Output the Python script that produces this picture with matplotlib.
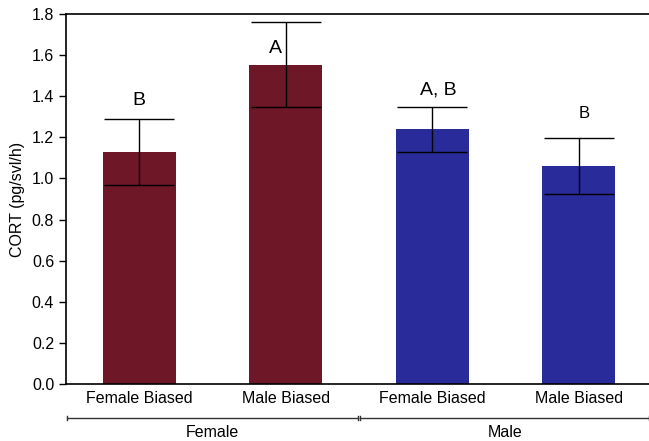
import matplotlib
matplotlib.use("Agg")
import matplotlib.pyplot as plt
from matplotlib.transforms import blended_transform_factory

plt.rcParams['font.family'] = ['Liberation Sans', 'DejaVu Sans']

categories = ["Female Biased", "Male Biased", "Female Biased", "Male Biased"]
groups = ["Female", "Male"]
means = [1.13, 1.55, 1.24, 1.06]
err_low = [0.968, 1.347, 1.128, 0.924]
err_high = [1.289, 1.761, 1.347, 1.196]
letters = ["B", "A", "A, B", "B"]
colors = ["#6e1727", "#6e1727", "#2a2b9b", "#2a2b9b"]

fig = plt.figure(figsize=(6.49, 4.41), dpi=100)
ax = fig.add_axes([66/649, 57/441, 1 - 66/649, 370/441])

x = list(range(len(means)))
yerr = [[m - l for m, l in zip(means, err_low)], [h - m for m, h in zip(means, err_high)]]
ax.bar(x, means, width=0.5, color=colors, zorder=2)
ax.errorbar(x, means, yerr=yerr, fmt='none', ecolor='black', elinewidth=1.0,
            capsize=25, capthick=1.0, zorder=3)

letter_pos = [(0, 1.38, 14), (-0.07, 1.63, 14), (0.04, 1.43, 14), (0.04, 1.315, 12)]
for i, (dx, y, fs) in enumerate(letter_pos):
    ax.text(x[i] + dx, y, letters[i], ha='center', va='center', fontsize=fs)

ax.set_xlim(-0.5, 3.48)
ax.set_ylim(0, 1.8)
ax.set_yticks([0.0, 0.2, 0.4, 0.6, 0.8, 1.0, 1.2, 1.4, 1.6, 1.8])
ax.set_yticklabels([f"{v:.1f}" for v in ax.get_yticks()], fontsize=11.5)
ax.set_xticks(x)
ax.set_xticklabels(categories, fontsize=11.5)
ax.tick_params(axis='x', length=0, pad=5)
ax.tick_params(axis='y', direction='out', length=5, width=1)
ax.spines['right'].set_visible(False)
for s in ['left', 'top', 'bottom']:
    ax.spines[s].set_linewidth(1.2)
ax.set_ylabel("CORT (pg/svl/h)", fontsize=11.5, labelpad=5)

trans = blended_transform_factory(ax.transData, ax.transAxes)
yl = -0.092
for (x0, x1) in [(-0.49, 1.49), (1.51, 3.48)]:
    ax.plot([x0, x1], [yl, yl], color='#333333', lw=1.0, transform=trans, clip_on=False)
    ax.plot([x0, x0], [yl - 0.006, yl + 0.006], color='#333333', lw=1.0, transform=trans, clip_on=False)
    ax.plot([x1, x1], [yl - 0.006, yl + 0.006], color='#333333', lw=1.0, transform=trans, clip_on=False)
for gx, g in zip([0.5, 2.5], groups):
    ax.text(gx, -0.131, g, ha='center', va='center', fontsize=11.5, transform=trans)

fig.savefig("out.png", dpi=100)
